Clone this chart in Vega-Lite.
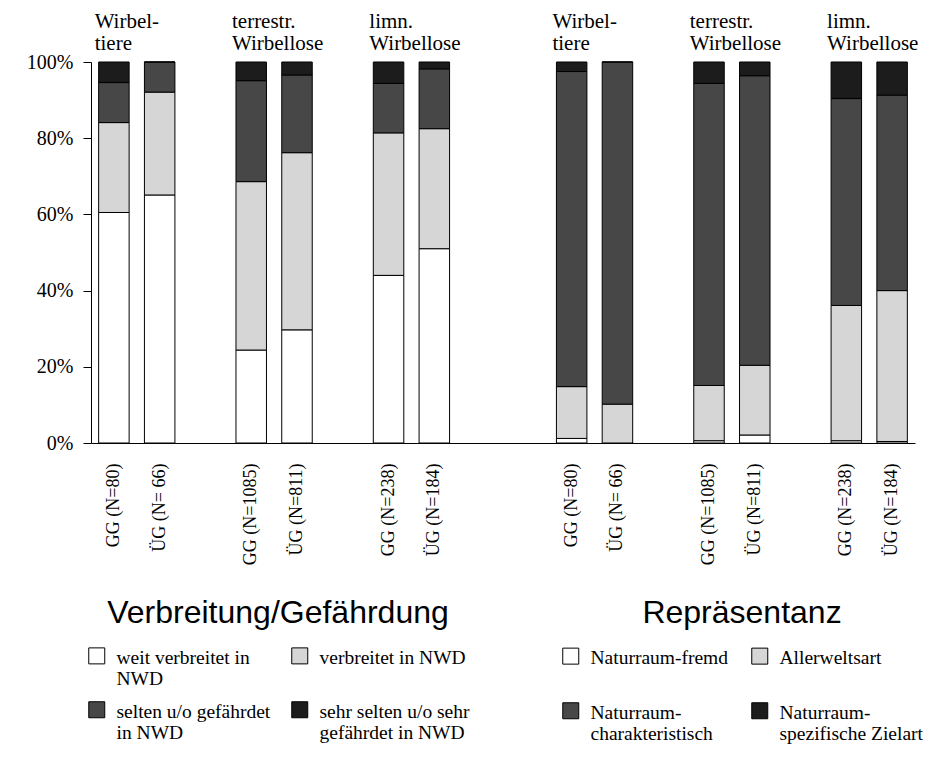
{
  "$schema": "https://vega.github.io/schema/vega-lite/v6.json",
  "width": 824,
  "height": 381,
  "autosize": {"type": "none"},
  "padding": {"left": 91, "top": 62, "right": 29, "bottom": 331},
  "background": "white",
  "config": {
    "view": {"stroke": null},
    "font": "Liberation Serif",
    "axis": {"domainColor": "black", "tickColor": "black", "labelColor": "black", "grid": false, "labelFont": "Liberation Serif"}
  },
  "datasets": {
    "bars": [
      {"slot": "L|GG (N=80)", "side": "L", "cat": "weit verbreitet in NWD", "k": 1, "pct": 60.5},
      {"slot": "L|GG (N=80)", "side": "L", "cat": "verbreitet in NWD", "k": 2, "pct": 23.6},
      {"slot": "L|GG (N=80)", "side": "L", "cat": "selten u/o gefährdet in NWD", "k": 3, "pct": 10.5},
      {"slot": "L|GG (N=80)", "side": "L", "cat": "sehr selten u/o sehr gefährdet in NWD", "k": 4, "pct": 5.4},
      {"slot": "L|ÜG (N= 66)", "side": "L", "cat": "weit verbreitet in NWD", "k": 1, "pct": 65.1},
      {"slot": "L|ÜG (N= 66)", "side": "L", "cat": "verbreitet in NWD", "k": 2, "pct": 27.0},
      {"slot": "L|ÜG (N= 66)", "side": "L", "cat": "selten u/o gefährdet in NWD", "k": 3, "pct": 7.9},
      {"slot": "L|ÜG (N= 66)", "side": "L", "cat": "sehr selten u/o sehr gefährdet in NWD", "k": 4, "pct": 0},
      {"slot": "L|GG (N=1085)", "side": "L", "cat": "weit verbreitet in NWD", "k": 1, "pct": 24.4},
      {"slot": "L|GG (N=1085)", "side": "L", "cat": "verbreitet in NWD", "k": 2, "pct": 44.2},
      {"slot": "L|GG (N=1085)", "side": "L", "cat": "selten u/o gefährdet in NWD", "k": 3, "pct": 26.5},
      {"slot": "L|GG (N=1085)", "side": "L", "cat": "sehr selten u/o sehr gefährdet in NWD", "k": 4, "pct": 4.9},
      {"slot": "L|ÜG (N=811)", "side": "L", "cat": "weit verbreitet in NWD", "k": 1, "pct": 29.7},
      {"slot": "L|ÜG (N=811)", "side": "L", "cat": "verbreitet in NWD", "k": 2, "pct": 46.5},
      {"slot": "L|ÜG (N=811)", "side": "L", "cat": "selten u/o gefährdet in NWD", "k": 3, "pct": 20.4},
      {"slot": "L|ÜG (N=811)", "side": "L", "cat": "sehr selten u/o sehr gefährdet in NWD", "k": 4, "pct": 3.4},
      {"slot": "L|GG (N=238)", "side": "L", "cat": "weit verbreitet in NWD", "k": 1, "pct": 44.0},
      {"slot": "L|GG (N=238)", "side": "L", "cat": "verbreitet in NWD", "k": 2, "pct": 37.4},
      {"slot": "L|GG (N=238)", "side": "L", "cat": "selten u/o gefährdet in NWD", "k": 3, "pct": 13.0},
      {"slot": "L|GG (N=238)", "side": "L", "cat": "sehr selten u/o sehr gefährdet in NWD", "k": 4, "pct": 5.6},
      {"slot": "L|ÜG (N=184)", "side": "L", "cat": "weit verbreitet in NWD", "k": 1, "pct": 51.0},
      {"slot": "L|ÜG (N=184)", "side": "L", "cat": "verbreitet in NWD", "k": 2, "pct": 31.5},
      {"slot": "L|ÜG (N=184)", "side": "L", "cat": "selten u/o gefährdet in NWD", "k": 3, "pct": 15.7},
      {"slot": "L|ÜG (N=184)", "side": "L", "cat": "sehr selten u/o sehr gefährdet in NWD", "k": 4, "pct": 1.8},
      {"slot": "R|GG (N=80)", "side": "R", "cat": "Naturraum-fremd", "k": 1, "pct": 1.2},
      {"slot": "R|GG (N=80)", "side": "R", "cat": "Allerweltsart", "k": 2, "pct": 13.6},
      {"slot": "R|GG (N=80)", "side": "R", "cat": "Naturraum-charakteristisch", "k": 3, "pct": 82.7},
      {"slot": "R|GG (N=80)", "side": "R", "cat": "Naturraum-spezifische Zielart", "k": 4, "pct": 2.5},
      {"slot": "R|ÜG (N= 66)", "side": "R", "cat": "Naturraum-fremd", "k": 1, "pct": 0},
      {"slot": "R|ÜG (N= 66)", "side": "R", "cat": "Allerweltsart", "k": 2, "pct": 10.2},
      {"slot": "R|ÜG (N= 66)", "side": "R", "cat": "Naturraum-charakteristisch", "k": 3, "pct": 89.8},
      {"slot": "R|ÜG (N= 66)", "side": "R", "cat": "Naturraum-spezifische Zielart", "k": 4, "pct": 0},
      {"slot": "R|GG (N=1085)", "side": "R", "cat": "Naturraum-fremd", "k": 1, "pct": 0.6},
      {"slot": "R|GG (N=1085)", "side": "R", "cat": "Allerweltsart", "k": 2, "pct": 14.5},
      {"slot": "R|GG (N=1085)", "side": "R", "cat": "Naturraum-charakteristisch", "k": 3, "pct": 79.3},
      {"slot": "R|GG (N=1085)", "side": "R", "cat": "Naturraum-spezifische Zielart", "k": 4, "pct": 5.6},
      {"slot": "R|ÜG (N=811)", "side": "R", "cat": "Naturraum-fremd", "k": 1, "pct": 2.1},
      {"slot": "R|ÜG (N=811)", "side": "R", "cat": "Allerweltsart", "k": 2, "pct": 18.3},
      {"slot": "R|ÜG (N=811)", "side": "R", "cat": "Naturraum-charakteristisch", "k": 3, "pct": 76.0},
      {"slot": "R|ÜG (N=811)", "side": "R", "cat": "Naturraum-spezifische Zielart", "k": 4, "pct": 3.6},
      {"slot": "R|GG (N=238)", "side": "R", "cat": "Naturraum-fremd", "k": 1, "pct": 0.6},
      {"slot": "R|GG (N=238)", "side": "R", "cat": "Allerweltsart", "k": 2, "pct": 35.5},
      {"slot": "R|GG (N=238)", "side": "R", "cat": "Naturraum-charakteristisch", "k": 3, "pct": 54.3},
      {"slot": "R|GG (N=238)", "side": "R", "cat": "Naturraum-spezifische Zielart", "k": 4, "pct": 9.6},
      {"slot": "R|ÜG (N=184)", "side": "R", "cat": "Naturraum-fremd", "k": 1, "pct": 0.4},
      {"slot": "R|ÜG (N=184)", "side": "R", "cat": "Allerweltsart", "k": 2, "pct": 39.6},
      {"slot": "R|ÜG (N=184)", "side": "R", "cat": "Naturraum-charakteristisch", "k": 3, "pct": 51.3},
      {"slot": "R|ÜG (N=184)", "side": "R", "cat": "Naturraum-spezifische Zielart", "k": 4, "pct": 8.7}
    ],
    "heads": [
      {"slot": "L|GG (N=80)", "head": "Wirbel-\ntiere"},
      {"slot": "L|GG (N=1085)", "head": "terrestr.\nWirbellose"},
      {"slot": "L|GG (N=238)", "head": "limn.\nWirbellose"},
      {"slot": "R|GG (N=80)", "head": "Wirbel-\ntiere"},
      {"slot": "R|GG (N=1085)", "head": "terrestr.\nWirbellose"},
      {"slot": "R|GG (N=238)", "head": "limn.\nWirbellose"}
    ]
  },
  "layer": [
    {
      "data": {"name": "bars"},
      "transform": [{"filter": "datum.side == 'L'"}],
      "mark": {"type": "bar", "stroke": "black", "strokeWidth": 1},
      "encoding": {
        "x": {
          "field": "slot", "type": "nominal",
          "scale": {"domain": ["L|GG (N=80)", "L|ÜG (N= 66)", "s1", "L|GG (N=1085)", "L|ÜG (N=811)", "s2", "L|GG (N=238)", "L|ÜG (N=184)", "s3", "s4", "R|GG (N=80)", "R|ÜG (N= 66)", "s5", "R|GG (N=1085)", "R|ÜG (N=811)", "s6", "R|GG (N=238)", "R|ÜG (N=184)"], "paddingInner": 0.334, "paddingOuter": 0.167},
          "axis": {"title": null, "ticks": false, "labelAngle": -90, "labelAlign": "right", "labelBaseline": "middle", "labelPadding": 20, "labelFont": "Liberation Serif", "labelFontSize": 18, "labelOverlap": false, "labelLimit": 300, "labelExpr": "indexof(datum.label, '|') >= 0 ? substring(datum.label, indexof(datum.label, '|') + 1) : ''"}
        },
        "y": {
          "field": "pct", "type": "quantitative", "stack": "zero",
          "scale": {"domain": [0, 100], "nice": false},
          "axis": {"title": null, "values": [0, 20, 40, 60, 80, 100], "labelExpr": "datum.value + '%'", "tickSize": 8, "labelPadding": 10, "labelFont": "Liberation Serif", "labelFontSize": 20}
        },
        "order": {"field": "k", "type": "quantitative"},
        "color": {
          "field": "cat", "type": "nominal",
          "scale": {"domain": ["weit verbreitet in NWD", "verbreitet in NWD", "selten u/o gefährdet in NWD", "sehr selten u/o sehr gefährdet in NWD"], "range": ["#ffffff", "#d6d6d6", "#474747", "#1c1c1c"]},
          "legend": {
            "orient": "none", "direction": "horizontal", "legendX": -4, "legendY": 536, "padding": 0,
            "title": " Verbreitung/Gefährdung", "titleFont": "Liberation Sans", "titleFontSize": 32, "titleFontWeight": "normal", "titleColor": "black", "titleAnchor": "middle", "titlePadding": 24, "titleLimit": 800,
            "columns": 2, "columnPadding": 18, "rowPadding": 10,
            "labelFont": "Liberation Serif", "labelFontSize": 19.5, "labelColor": "black", "labelLimit": 400, "labelOffset": 10, "labelBaseline": "alphabetic",
            "symbolType": "M-1,-2H1V0H-1Z", "symbolSize": 256, "symbolStrokeColor": "black", "symbolStrokeWidth": 1,
            "labelExpr": "datum.label == 'weit verbreitet in NWD' ? ['weit verbreitet in', 'NWD'] : datum.label == 'verbreitet in NWD' ? ['verbreitet in NWD', ' '] : datum.label == 'selten u/o gefährdet in NWD' ? ['selten u/o gefährdet', 'in NWD'] : datum.label == 'sehr selten u/o sehr gefährdet in NWD' ? ['sehr selten u/o sehr', 'gefährdet in NWD'] : datum.label"
          }
        }
      }
    },
    {
      "data": {"name": "bars"},
      "transform": [{"filter": "datum.side == 'R'"}],
      "mark": {"type": "bar", "stroke": "black", "strokeWidth": 1},
      "encoding": {
        "x": {
          "field": "slot", "type": "nominal",
          "scale": {"domain": ["L|GG (N=80)", "L|ÜG (N= 66)", "s1", "L|GG (N=1085)", "L|ÜG (N=811)", "s2", "L|GG (N=238)", "L|ÜG (N=184)", "s3", "s4", "R|GG (N=80)", "R|ÜG (N= 66)", "s5", "R|GG (N=1085)", "R|ÜG (N=811)", "s6", "R|GG (N=238)", "R|ÜG (N=184)"], "paddingInner": 0.334, "paddingOuter": 0.167}
        },
        "y": {"field": "pct", "type": "quantitative", "stack": "zero", "scale": {"domain": [0, 100], "nice": false}},
        "order": {"field": "k", "type": "quantitative"},
        "color": {
          "field": "cat", "type": "nominal",
          "scale": {"domain": ["Naturraum-fremd", "Allerweltsart", "Naturraum-charakteristisch", "Naturraum-spezifische Zielart"], "range": ["#ffffff", "#d6d6d6", "#474747", "#1c1c1c"]},
          "legend": {
            "orient": "none", "direction": "horizontal", "legendX": 470, "legendY": 536, "padding": 0,
            "title": "Repräsentanz\u00a0\u00a0\u00a0\u00a0", "titleFont": "Liberation Sans", "titleFontSize": 32, "titleFontWeight": "normal", "titleColor": "black", "titleAnchor": "middle", "titlePadding": 24, "titleLimit": 800,
            "columns": 2, "columnPadding": 20, "rowPadding": 32,
            "labelFont": "Liberation Serif", "labelFontSize": 19.5, "labelColor": "black", "labelLimit": 400, "labelOffset": 10, "labelBaseline": "alphabetic",
            "symbolType": "M-1,-2H1V0H-1Z", "symbolSize": 256, "symbolStrokeColor": "black", "symbolStrokeWidth": 1,
            "labelExpr": "datum.label == 'Naturraum-charakteristisch' ? ['Naturraum-', 'charakteristisch'] : datum.label == 'Naturraum-spezifische Zielart' ? ['Naturraum-', 'spezifische Zielart'] : datum.label"
          }
        }
      }
    },
    {
      "data": {"name": "heads"},
      "mark": {"type": "text", "font": "Liberation Serif", "fontSize": 21, "align": "left", "baseline": "alphabetic", "lineBreak": "\n", "lineHeight": 22, "dx": -4, "dy": -34, "color": "black"},
      "encoding": {
        "x": {
          "field": "slot", "type": "nominal", "bandPosition": 0,
          "scale": {"domain": ["L|GG (N=80)", "L|ÜG (N= 66)", "s1", "L|GG (N=1085)", "L|ÜG (N=811)", "s2", "L|GG (N=238)", "L|ÜG (N=184)", "s3", "s4", "R|GG (N=80)", "R|ÜG (N= 66)", "s5", "R|GG (N=1085)", "R|ÜG (N=811)", "s6", "R|GG (N=238)", "R|ÜG (N=184)"], "paddingInner": 0.334, "paddingOuter": 0.167}
        },
        "y": {"datum": 100, "type": "quantitative"},
        "text": {"field": "head", "type": "nominal"}
      }
    }
  ],
  "resolve": {"scale": {"color": "independent"}}
}
